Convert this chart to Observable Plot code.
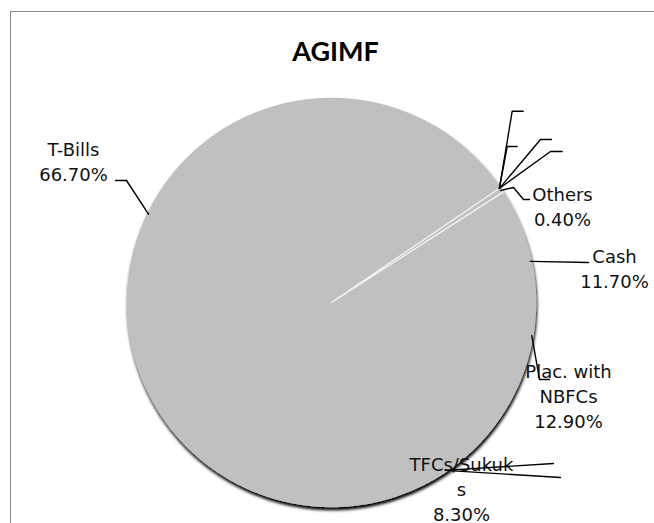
<!DOCTYPE html>
<html>
<head>
<meta charset="utf-8">
<script src="https://cdn.jsdelivr.net/npm/d3@7"></script>
<script src="https://cdn.jsdelivr.net/npm/@observablehq/plot@0.6"></script>
<style>
  body { margin: 0; background: #fff; }
  #wrap { position: relative; width: 654px; height: 523px; overflow: hidden; background: #fff; }
  #border { position: absolute; left: 10px; top: 11px; width: 700px; height: 600px;
            border-left: 1px solid #8a8a8a; border-top: 1.5px solid #8a8a8a; }
  #chart { position: absolute; left: 0; top: 0; }
</style>
</head>
<body>
<div id="wrap"><div id="border"></div><div id="chart"></div></div>
<script>
// Asset allocation of the fund, share of net assets (%), clockwise order
const title = "AGIMF";
const categories = ["", "", "", "", "Others", "Cash", "Plac. with NBFCs", "", "TFCs/Sukuks", "T-Bills"];
const shares     = [0, 0, 0, 0, 0.4, 11.7, 12.9, 0, 8.3, 66.7];

// Layout: pie geometry in pixels, first slice angle in degrees
const pie = {cx: 331, cy: 302, r: 204, start: 55.8};
const W = 654, H = 523;
// where each leader leaves its slice (0 = slice start, 0.5 = middle)
const leaderAnchor = [0, 0, 0, 0, 0.5, 0.5, 0, 0, 0, 0.5];
// remaining leader vertices, offsets from the pie centre
const leaderPath = [
  [[180.7, -191.3], [191.7, -191.3]],
  [[175.7, -156], [185.7, -156]],
  [[209, -163], [220, -163]],
  [[219, -151], [230.7, -151]],
  [[182, -115], [192, -103], [198, -103]],
  [[257, -40]],
  [[208, 77], [218, 77]],
  [[229, 175]],
  [[222, 161]],
  [[-205, -122], [-216, -122]]
];
// label centre x and first baseline y, offsets from the pie centre
const labelAt = [null, null, null, null, [231, -102], [283, -40], [237, 75], null, [130, 168], [-258, -147]];
// character index where a long category name wraps
const labelBreak = [null, null, null, null, null, null, 10, null, 10, null];
const lineGap = 25;
const titleAt = [4, -242];

const rows = categories.map((name, i) => ({i, name, share: shares[i]}));
const deg = Math.PI / 180;
const arcs = d3.pie().sort(null).value(d => d.share)
  .startAngle(pie.start * deg).endAngle((pie.start + 360) * deg)(rows);

const polar = (a, r) => ({x: r * Math.sin(a), y: -r * Math.cos(a)});

// slice outlines as closed polygons
const slicePts = [];
for (const a of arcs) {
  if (a.value <= 0) continue;
  const n = Math.max(2, Math.ceil((a.endAngle - a.startAngle) / (0.4 * deg)));
  slicePts.push({name: a.data.name, x: 0, y: 0});
  for (let k = 0; k <= n; k++) {
    const t = a.startAngle + (a.endAngle - a.startAngle) * k / n;
    slicePts.push({name: a.data.name, ...polar(t, pie.r)});
  }
  slicePts.push({name: a.data.name, x: 0, y: 0});
}

// leader lines, starting on the slice edge
const leaderPts = [];
arcs.forEach((a, idx) => {
  const i = a.data.i;
  const t = a.startAngle + (a.endAngle - a.startAngle) * leaderAnchor[i];
  leaderPts.push({id: idx, ...polar(t, pie.r - 1)});
  for (const [x, y] of leaderPath[i]) leaderPts.push({id: idx, x, y});
});

// data labels: wrapped category name plus percentage
const fmt = d3.format(".2f");
const labelRows = [];
rows.forEach(d => {
  const at = labelAt[d.i];
  if (!at) return;
  const b = labelBreak[d.i];
  const parts = b == null ? [d.name] : [d.name.slice(0, b).trim(), d.name.slice(b).trim()];
  parts.push(fmt(d.share) + "%");
  parts.forEach((text, k) => labelRows.push({x: at[0], y: at[1] + k * lineGap, text}));
});

const font = "DejaVu Sans, Verdana, sans-serif";

const chart = Plot.plot({
  width: W,
  height: H,
  margin: 0,
  style: {background: "transparent", overflow: "visible"},
  x: {domain: [-pie.cx, W - pie.cx], range: [0, W], axis: null},
  y: {domain: [-pie.cy, H - pie.cy], range: [0, H], axis: null},
  marks: [
    Plot.line(slicePts, {x: "x", y: "y", z: "name", fill: "#c0c0c0", stroke: "#c0c0c0",
      strokeWidth: 1.5, strokeLinejoin: "round"}),
    Plot.line(slicePts.filter(d => d.name === "Others"), {x: "x", y: "y", z: "name",
      fill: "#c0c0c0", stroke: "#f4f4f4", strokeWidth: 1.3, strokeLinejoin: "round"}),
    Plot.text([title], {x: () => titleAt[0], y: () => titleAt[1], text: d => d,
      fontFamily: "Lato, 'Open Sans', sans-serif", fontWeight: 700, fontSize: 27,
      fill: "#000", lineAnchor: "bottom", textAnchor: "middle"}),
    Plot.text(labelRows, {x: "x", y: "y", text: "text", fontFamily: font, fontSize: 18,
      fill: "#111", lineAnchor: "bottom", textAnchor: "middle"}),
    Plot.line(leaderPts, {x: "x", y: "y", z: "id", stroke: "#000", strokeWidth: 1.4,
      curve: "linear"})
  ]
});

document.getElementById("chart").appendChild(chart);

// dark soft shadow under the pie (the first line mark holds the slices)
const svg = d3.select(chart);
const filter = svg.insert("defs", ":first-child").append("filter")
  .attr("id", "pieShadow").attr("x", "-10%").attr("y", "-10%")
  .attr("width", "120%").attr("height", "120%");
filter.append("feDropShadow").attr("dx", 0.8).attr("dy", 3).attr("stdDeviation", 1.6)
  .attr("flood-color", "#000").attr("flood-opacity", 1);
svg.select('g[aria-label="line"]').attr("filter", "url(#pieShadow)");
</script>
</body>
</html>
